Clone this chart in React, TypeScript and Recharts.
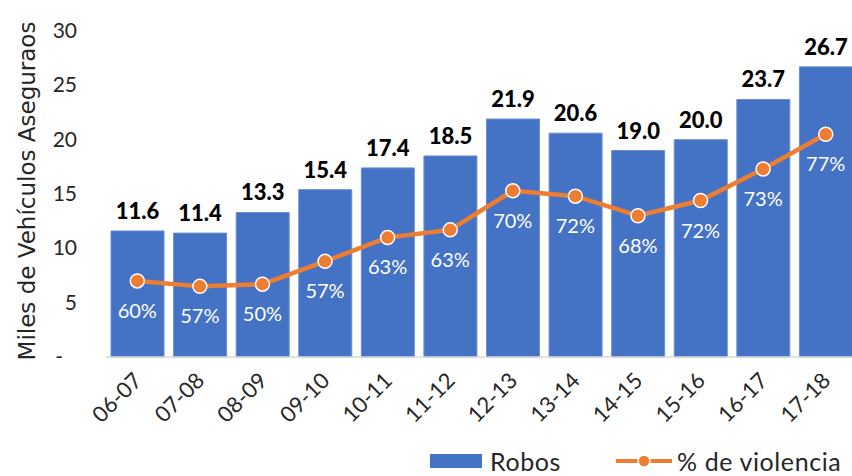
import { ComposedChart, Bar, Line, XAxis, YAxis, LabelList } from "recharts"

const periods = ["06-07", "07-08", "08-09", "09-10", "10-11", "11-12", "12-13", "13-14", "14-15", "15-16", "16-17", "17-18"]
const robos = [11.6, 11.4, 13.3, 15.4, 17.4, 18.5, 21.9, 20.6, 19.0, 20.0, 23.7, 26.7]
// thousands of vehicles robbed with violence (line height)
const conViolencia = [7.0, 6.5, 6.7, 8.8, 11.0, 11.7, 15.3, 14.8, 13.0, 14.4, 17.3, 20.5]
const pctViolencia = ["60%", "57%", "50%", "57%", "63%", "63%", "70%", "72%", "68%", "72%", "73%", "77%"]
const yTicks = [0, 5, 10, 15, 20, 25, 30]

const FONT = "Lato"
const BLUE = "#4472C4"
const ORANGE = "#ED7D31"
const TEXT = "#262626"

const data = periods.map((p, i) => ({
  period: p,
  robos: robos[i],
  violencia: conViolencia[i],
  pct: pctViolencia[i],
}))

function YTick(props: any) {
  const { x, y, payload } = props
  const isZero = payload.value === 0
  return (
    <text
      x={isZero ? x - 14 : x}
      y={y}
      dy={7}
      textAnchor="end"
      fontSize={21}
      fontFamily={FONT}
      fill={TEXT}
    >
      {isZero ? "-" : payload.value}
    </text>
  )
}

function XTick(props: any) {
  const { x, y, payload } = props
  const tx = x + 6
  const ty = y + 17
  return (
    <text
      x={tx}
      y={ty}
      transform={`rotate(-45 ${tx} ${ty})`}
      textAnchor="end"
      fontSize={22}
      fontFamily={FONT}
      fill={TEXT}
    >
      {payload.value}
    </text>
  )
}

function PctLabel(props: any) {
  const { x, y, index } = props
  return (
    <text
      x={x}
      y={y + 37}
      textAnchor="middle"
      fontSize={20}
      fontFamily={FONT}
      fill="#ffffff"
    >
      {pctViolencia[index]}
    </text>
  )
}

function YLabel(props: any) {
  const { viewBox } = props
  const cx = 27
  const cy = viewBox.y + viewBox.height / 2 - 3
  return (
    <text
      x={cx}
      y={cy}
      transform={`rotate(-90 ${cx} ${cy})`}
      textAnchor="middle"
      dominantBaseline="central"
      fontSize={23}
      fontFamily="DejaVu Sans"
      fill={TEXT}
    >
      Miles de Vehículos Aseguraos
    </text>
  )
}

export default function App() {
  return (
    <div style={{ position: "fixed", left: 0, top: 0, width: 852, height: 476, overflow: "hidden", background: "#fff" }}>
      <ComposedChart
        width={860}
        height={476}
        data={data}
        margin={{ top: 31, right: 3, left: 0, bottom: 39 }}
        barCategoryGap="8%"
      >
        <XAxis
          dataKey="period"
          height={80}
          interval={0}
          tickLine={false}
          axisLine={{ stroke: "#D9D9D9", strokeWidth: 1.5 }}
          tick={<XTick />}
        />
        <YAxis
          width={106}
          domain={[0, 30]}
          ticks={yTicks}
          tickLine={false}
          axisLine={false}
          tickSize={0}
          tickMargin={29}
          tick={<YTick />}
          label={<YLabel />}
        />
        <Bar dataKey="robos" fill={BLUE} stroke="#6A8FD3" strokeWidth={1} isAnimationActive={false}>
          <LabelList
            dataKey="robos"
            position="top"
            offset={12}
            formatter={(v: any) => Number(v).toFixed(1)}
            style={{ fontSize: 22, fontWeight: 900, fontFamily: FONT, fill: "#000" }}
          />
        </Bar>
        <Line
          dataKey="violencia"
          type="linear"
          stroke={ORANGE}
          strokeWidth={4.5}
          dot={{ r: 7, fill: ORANGE, stroke: "#fff", strokeWidth: 1.5 }}
          isAnimationActive={false}
        >
          <LabelList dataKey="pct" content={<PctLabel />} />
        </Line>
      </ComposedChart>

      <div
        style={{
          position: "absolute",
          left: 430,
          top: 447,
          height: 28,
          display: "flex",
          alignItems: "center",
          fontFamily: FONT,
          fontSize: 25,
          lineHeight: "28px",
          letterSpacing: 0.6,
          color: TEXT,
          whiteSpace: "nowrap",
        }}
      >
        <span style={{ display: "inline-block", width: 52, height: 14, background: BLUE, marginRight: 8 }} />
        <span>Robos</span>
        <svg width={56} height={20} style={{ marginLeft: 55, marginRight: 5 }}>
          <line x1={0} y1={10} x2={56} y2={10} stroke={ORANGE} strokeWidth={4} />
          <circle cx={28} cy={10} r={6} fill={ORANGE} stroke="#fff" strokeWidth={1.5} />
        </svg>
        <span>% de violencia</span>
      </div>
    </div>
  )
}
